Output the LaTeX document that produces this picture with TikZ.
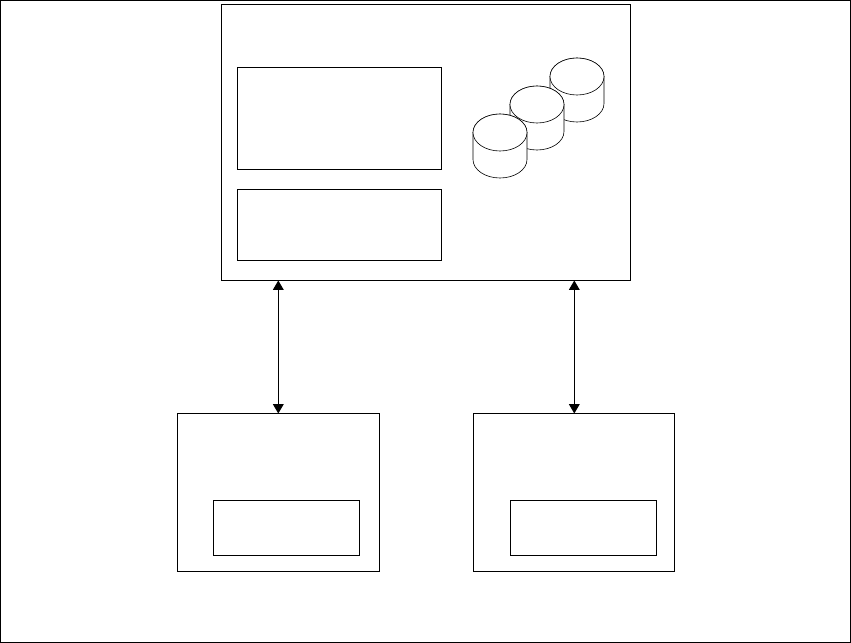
\documentclass[tikz,border=0pt]{standalone}
\usetikzlibrary{arrows.meta}
\tikzset{
  x=0.75pt,y=-0.75pt,
  px/.style={line width=0.75pt,draw=black},
  link/.style={px,{Triangle[length=7pt,width=8pt]}-{Triangle[length=7pt,width=8pt]}},
  cyl/.style={line width=0.45pt,draw=black,fill=white}
}
\newcommand{\boxat}[5]{\node[px,rectangle,inner sep=0pt,outer sep=0pt,anchor=north west,minimum width=#3*0.75pt,minimum height=#4*0.75pt] (#5) at (#1,#2) {};}
\newcommand{\cylat}[2]{%
  \draw[cyl] (#1-27,#2) -- (#1-27,#2+27) arc[start angle=180,end angle=0,x radius=27,y radius=18.5] -- (#1+27,#2) arc[start angle=0,end angle=-180,x radius=27,y radius=18.5];
  \draw[cyl] (#1,#2) ellipse[x radius=27,y radius=18.5];}
\begin{document}
\begin{tikzpicture}
\useasboundingbox (0,0) rectangle (851,643);
\boxat{0.5}{0.5}{850}{642}{frame}
\boxat{221.5}{4.5}{409}{276}{server}
\boxat{237.5}{67.5}{204}{102}{upper}
\boxat{237.5}{189.5}{204}{71}{lower}
\boxat{177.5}{413.5}{202}{158}{clientA}
\boxat{473.5}{413.5}{201}{158}{clientB}
\boxat{213.5}{500.5}{146}{55}{innerA}
\boxat{510.5}{500.5}{146}{55}{innerB}
\cylat{577}{76.5}
\cylat{537}{104.5}
\cylat{500}{132.5}
\coordinate (sa) at (278.3,280.5);
\coordinate (ca) at (278.3,413.5);
\coordinate (sb) at (574.3,280.5);
\coordinate (cb) at (574.3,413.5);
\draw[link] (sa) -- (ca);
\draw[link] (sb) -- (cb);
\end{tikzpicture}
\end{document}
